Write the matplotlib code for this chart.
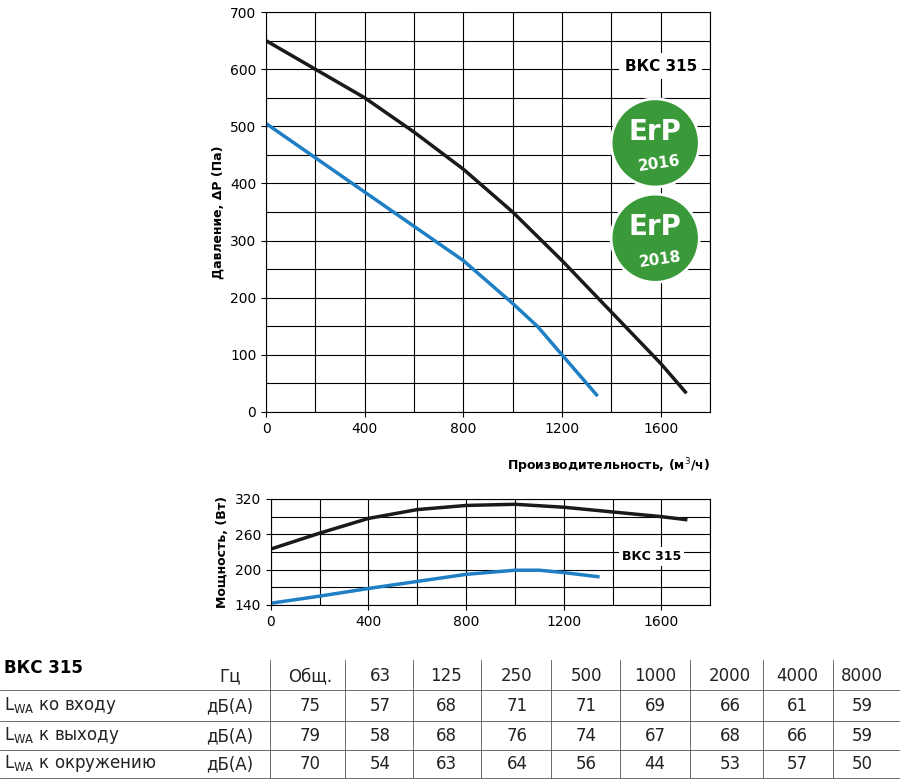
import matplotlib.pyplot as plt
from matplotlib.patches import Ellipse

# pressure curves
q_black = [0, 200, 400, 600, 800, 1000, 1200, 1400, 1600, 1700]
p_black = [650, 600, 550, 490, 425, 350, 265, 175, 85, 35]
q_blue = [0, 200, 400, 600, 800, 1000, 1100, 1200, 1340]
p_blue = [505, 445, 385, 325, 265, 190, 150, 100, 30]

# power curves
w_black = [235, 262, 287, 302, 309, 311, 306, 298, 290, 285]
w_blue = [143, 155, 168, 180, 192, 199, 199, 195, 188]

freq_labels = ['Гц', 'Общ.', '63', '125', '250', '500', '1000', '2000', '4000', '8000']
row_names = ['ко входу', 'к выходу', 'к окружению']
row_vals = [
    [75, 57, 68, 71, 71, 69, 66, 61, 59],
    [79, 58, 68, 76, 74, 67, 68, 66, 59],
    [70, 54, 63, 64, 56, 44, 53, 57, 50],
]

BLACK = '#1a1a1a'
BLUE = '#1f7fc4'

fig = plt.figure(figsize=(9, 7.81), dpi=100)

# main chart
ax = fig.add_axes([0.2956, 0.4725, 0.4933, 0.512])
ax.plot(q_black, p_black, color=BLACK, lw=2.5)
ax.plot(q_blue, p_blue, color=BLUE, lw=2.5)
ax.set_xlim(0, 1800)
ax.set_ylim(0, 700)
ax.set_xticks(range(0, 1801, 200), minor=True)
ax.set_xticks(range(0, 1601, 400))
ax.set_yticks(range(0, 701, 50), minor=True)
ax.set_yticks(range(0, 701, 100))
ax.grid(which='both', color='black', lw=0.8)
ax.tick_params(which='minor', length=0)
ax.tick_params(labelsize=10)
ax.set_ylabel('Давление, ΔP (Па)', fontsize=9, fontweight='bold')
ax.set_xlabel('Производительность, (м$^3$/ч)', fontsize=9, fontweight='bold')
ax.xaxis.set_label_coords(1.0, -0.11)
ax.xaxis.label.set_ha('right')
ax.text(1600, 605, 'ВКС 315', fontsize=11, fontweight='bold', ha='center', va='center',
        bbox=dict(facecolor='white', edgecolor='none', pad=4))

# ErP badges
for cy, year in [(0.817, '2016'), (0.695, '2018')]:
    c = Ellipse((0.728, cy), 0.098, 0.098 * 900 / 781, transform=fig.transFigure,
                facecolor='#3a9a3a', edgecolor='white', lw=2, zorder=5)
    fig.add_artist(c)
    fig.text(0.728, cy + 0.014, 'ErP', color='white', fontsize=20, fontweight='bold',
             ha='center', va='center', zorder=6)
    fig.text(0.733, cy - 0.027, year, color='white', fontsize=11, fontweight='bold',
             ha='center', va='center', zorder=6, rotation=8)

# power chart
ax2 = fig.add_axes([0.301, 0.2254, 0.488, 0.1357])
ax2.plot(q_black, w_black, color=BLACK, lw=2.5)
ax2.plot(q_blue, w_blue, color=BLUE, lw=2.5)
ax2.set_xlim(0, 1800)
ax2.set_ylim(140, 320)
ax2.set_xticks(range(0, 1801, 200), minor=True)
ax2.set_xticks(range(0, 1601, 400))
ax2.set_yticks(range(140, 321, 30), minor=True)
ax2.set_yticks([140, 200, 260, 320])
ax2.grid(which='both', color='black', lw=0.8)
ax2.tick_params(which='minor', length=0)
ax2.tick_params(labelsize=10)
ax2.set_ylabel('Мощность, (Вт)', fontsize=9, fontweight='bold')
ax2.text(1560, 222, 'ВКС 315', fontsize=9, fontweight='bold', ha='center', va='center',
         bbox=dict(facecolor='white', edgecolor='none', pad=2))

# table
fig.text(0.005, 1 - 668 / 781, 'ВКС 315', fontsize=12, fontweight='bold', va='center')
col_x = [230, 310, 380, 446, 517, 586, 655, 730, 797, 862]
sep_x = [270, 345, 413, 481, 551, 620, 690, 763, 833]
row_y = [676, 706, 736, 764]
line_y = [690, 721, 750, 778]
for x, lab in zip(col_x, freq_labels):
    fig.text(x / 900, 1 - row_y[0] / 781, lab, fontsize=12, ha='center', va='center', color='#222')
for r, (name, vals) in enumerate(zip(row_names, row_vals)):
    y = 1 - row_y[r + 1] / 781
    fig.text(0.005, y, '$\\mathregular{L_{WA}}$ ' + name, fontsize=12, va='center', color='#222')
    fig.text(230 / 900, y, 'дБ(А)', fontsize=12, ha='center', va='center', color='#222')
    for x, v in zip(col_x[1:], vals):
        fig.text(x / 900, y, str(v), fontsize=12, ha='center', va='center', color='#222')
for ly in line_y:
    fig.add_artist(plt.Line2D([0, 1], [1 - ly / 781] * 2, color='#555', lw=0.6))
for sx in sep_x:
    fig.add_artist(plt.Line2D([sx / 900] * 2, [1 - 660 / 781, 1 - 778 / 781], color='#555', lw=0.6))

fig.savefig('out.png', dpi=100)
